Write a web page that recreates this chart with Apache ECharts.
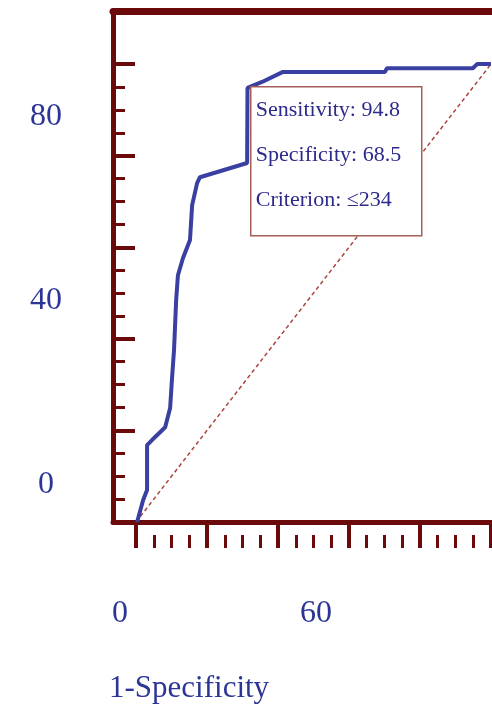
<!DOCTYPE html>
<html>
<head>
<meta charset="utf-8">
<script src="https://cdn.jsdelivr.net/npm/echarts@6/dist/echarts.min.js"></script>
<style>
  html, body { margin: 0; padding: 0; background: #fff; }
  #chart { width: 492px; height: 711px; }
</style>
</head>
<body>
<div id="chart"></div>
<script>
// ROC curve: 1-specificity (x) vs sensitivity (y)
var fpr  = [0.3, 2.0, 3.1, 3.1, 4.5, 8.2, 9.6, 10.1, 10.7, 11.3, 11.8, 13.2, 15.2, 15.8, 17.2, 18.0, 31.3, 31.4, 35.5, 41.4, 70.1, 70.7, 94.9, 96.1, 100];
var sens = [0, 4.8, 7.0, 16.8, 17.9, 20.7, 24.9, 31.0, 37.6, 48.5, 53.9, 57.6, 61.6, 69.2, 74.0, 75.3, 78.4, 94.8, 96.1, 98.3, 98.3, 99.1, 99.1, 100, 100];
var refLine = [[0, 0], [100, 100]];

var xMajor = [0, 20, 40, 60, 80, 100];
var xMinor = [5, 10, 15, 25, 30, 35, 45, 50, 55, 65, 70, 75, 85, 90, 95];
var yMajor = [20, 40, 60, 80, 100];
var yMinor = [5, 10, 15, 25, 30, 35, 45, 50, 55, 65, 70, 75, 85, 90, 95];
var xTickLabels = [0, 60];
var yTickLabels = [0, 40, 80];
var boxLines = ['Sensitivity: 94.8', 'Specificity: 68.5', 'Criterion: \u2264234'];

var axisColor = '#6b0a0a';
var textColor = '#2b3596';
var serif = '"Liberation Serif", "DejaVu Serif", serif';

var curve = fpr.map(function (v, i) { return [v, sens[i]]; });

var chart = echarts.init(document.getElementById('chart'));
var option = {
  animation: false,
  backgroundColor: '#fff',
  title: {
    text: '1-Specificity',
    left: 104, top: 668,
    textStyle: { fontFamily: serif, fontSize: 31, fontWeight: 'normal', color: textColor }
  },
  grid: { left: 113, top: 11, right: -22, bottom: 189, containLabel: false, outerBoundsMode: 'none' },
  xAxis: [
    { // main axis
      type: 'value', position: 'bottom', min: -6.5, max: 106.5,
      splitLine: { show: false },
      axisLine: { show: true, onZero: false, lineStyle: { color: axisColor, width: 5 } },
      axisTick: { show: true, customValues: xMajor, length: 26, lineStyle: { color: axisColor, width: 4 } },
      axisLabel: { show: false }
    },
    { // minor ticks, detached from the line
      type: 'value', position: 'bottom', offset: 13, min: -6.5, max: 106.5,
      splitLine: { show: false },
      axisLine: { show: false, onZero: false },
      axisTick: { show: true, customValues: xMinor, length: 13, lineStyle: { color: axisColor, width: 3 } },
      axisLabel: { show: false }
    },
    { // top frame
      type: 'value', position: 'top', min: -6.5, max: 106.5,
      splitLine: { show: false },
      axisLine: { show: true, onZero: false, lineStyle: { color: axisColor, width: 7 } },
      axisTick: { show: false }, axisLabel: { show: false }
    },
    { // tick labels as printed
      type: 'value', position: 'bottom', min: -2.14, max: 120.6,
      splitLine: { show: false }, axisLine: { show: false, onZero: false }, axisTick: { show: false },
      axisLabel: {
        show: true, customValues: xTickLabels, margin: 76,
        fontFamily: serif, fontSize: 32, color: textColor
      }
    }
  ],
  yAxis: [
    {
      type: 'value', position: 'left', min: 0, max: 111.6,
      splitLine: { show: false },
      axisLine: { show: true, onZero: false, lineStyle: { color: axisColor, width: 5 } },
      axisTick: { show: true, inside: true, customValues: yMajor, length: 22, lineStyle: { color: axisColor, width: 4 } },
      axisLabel: { show: false }
    },
    {
      type: 'value', position: 'left', min: 0, max: 111.6,
      splitLine: { show: false },
      axisLine: { show: false, onZero: false },
      axisTick: { show: true, inside: true, customValues: yMinor, length: 12, lineStyle: { color: axisColor, width: 3 } },
      axisLabel: { show: false }
    },
    {
      type: 'value', position: 'left', min: -8.2, max: 102.9,
      splitLine: { show: false }, axisLine: { show: false, onZero: false }, axisTick: { show: false },
      axisLabel: {
        show: true, customValues: yTickLabels, margin: 67, align: 'center',
        fontFamily: serif, fontSize: 32, color: textColor
      }
    }
  ],
  series: [
    {
      name: 'reference', type: 'line', data: refLine,
      xAxisIndex: 0, yAxisIndex: 0, symbol: 'none', z: 2,
      lineStyle: { color: '#a8463f', width: 1.5, type: [4, 3] }
    },
    {
      name: 'ROC', type: 'line', data: curve,
      xAxisIndex: 0, yAxisIndex: 0, symbol: 'none', z: 3,
      lineStyle: { color: '#3a40a2', width: 4 }
    }
  ],
  graphic: [
    {
      type: 'group', left: 250, top: 86, z: 100, zlevel: 1,
      children: [
        { type: 'rect', z: 100, zlevel: 1, shape: { x: 0, y: 0, width: 171, height: 149 },
          style: { fill: '#fff', stroke: '#a35f58', lineWidth: 1.5 } }
      ].concat(boxLines.map(function (t, i) {
        return { type: 'text', z: 101, zlevel: 1, x: 5, y: 12 + i * 45,
          style: { text: t, fill: '#2c2a8a', font: '22px ' + serif } };
      }))
    }
  ]
};
chart.setOption(option);
</script>
</body>
</html>
